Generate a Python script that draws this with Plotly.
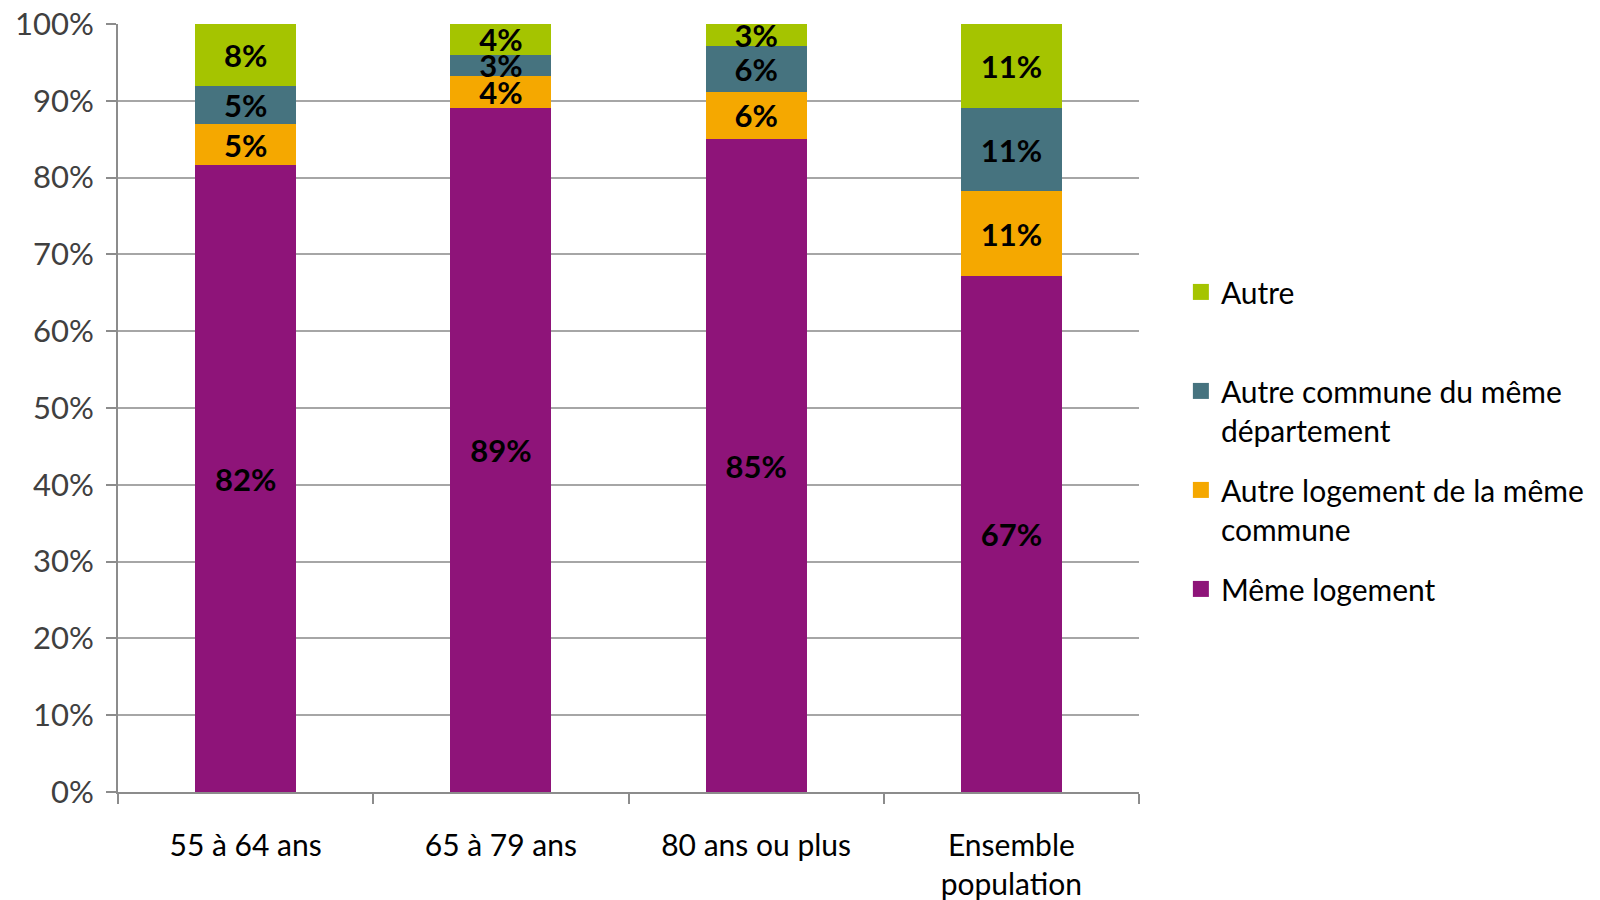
import plotly.graph_objects as go

categories = ["55 à 64 ans", "65 à 79 ans", "80 ans ou plus", "Ensemble<br>population"]
meme_logement = [81.6, 89.1, 85.0, 67.2]
autre_logement = [5.4, 4.1, 6.2, 11.0]
autre_commune = [4.9, 2.8, 5.9, 10.9]
autre = [8.1, 4.0, 2.9, 10.9]

series = [
    ("Même logement", meme_logement, "#8E1479"),
    ("Autre logement de la même<br>commune", autre_logement, "#F5A800"),
    ("Autre commune du même<br>département", autre_commune, "#46737F"),
    ("Autre<br>\u00a0", autre, "#A5C400"),
]

FONT = "Lato"
SIZE = 31
fig = go.Figure()
for name, vals, color in series:
    fig.add_trace(go.Bar(
        x=categories, y=vals, name=name, showlegend=False,
        marker=dict(color=color, line=dict(width=0)),
        text=[f"{round(v):.0f}%" for v in vals],
        textposition="inside", insidetextanchor="middle",
        constraintext="none",
        textfont=dict(family=FONT, size=SIZE, color="black", weight="bold"),
    ))

# legend entries (square swatches), top to bottom
for i, (name, vals, color) in enumerate(reversed(series)):
    fig.add_trace(go.Scatter(
        x=[None], y=[None], mode="markers", name=name,
        legendgroup=f"g{i}",
        marker=dict(symbol="square", size=16, color=color),
    ))

fig.update_layout(
    barmode="stack",
    bargap=0.605,
    width=1600, height=900,
    margin=dict(l=118, r=460, t=24, b=108),
    plot_bgcolor="white", paper_bgcolor="white",
    font=dict(family=FONT, size=SIZE, color="#000"),
    showlegend=True,
    legend=dict(
        x=1.040, xanchor="left", y=0.685, yanchor="top",
        traceorder="grouped", tracegroupgap=18, valign="top",
        font=dict(family=FONT, size=30, color="#000"),
        bgcolor="rgba(0,0,0,0)",
    ),
    xaxis=dict(
        automargin=False,
        showline=True, linecolor="#8c8c8c", linewidth=2,
        ticks="outside", tickson="boundaries", ticklen=10, tickwidth=2, tickcolor="#8c8c8c",
        ticklabelstandoff=26,
        tickfont=dict(family=FONT, size=30, color="#000"),
    ),
    yaxis=dict(
        automargin=False,
        range=[0, 100], dtick=10, ticksuffix="%",
        showline=True, linecolor="#8c8c8c", linewidth=2,
        gridcolor="#a6a6a6", gridwidth=2,
        ticks="outside", ticklen=10, tickwidth=2, tickcolor="#8c8c8c",
        ticklabelstandoff=6,
        tickfont=dict(family=FONT, size=SIZE, color="#404040"),
        zeroline=False,
    ),
)

fig.write_html("out.html")
